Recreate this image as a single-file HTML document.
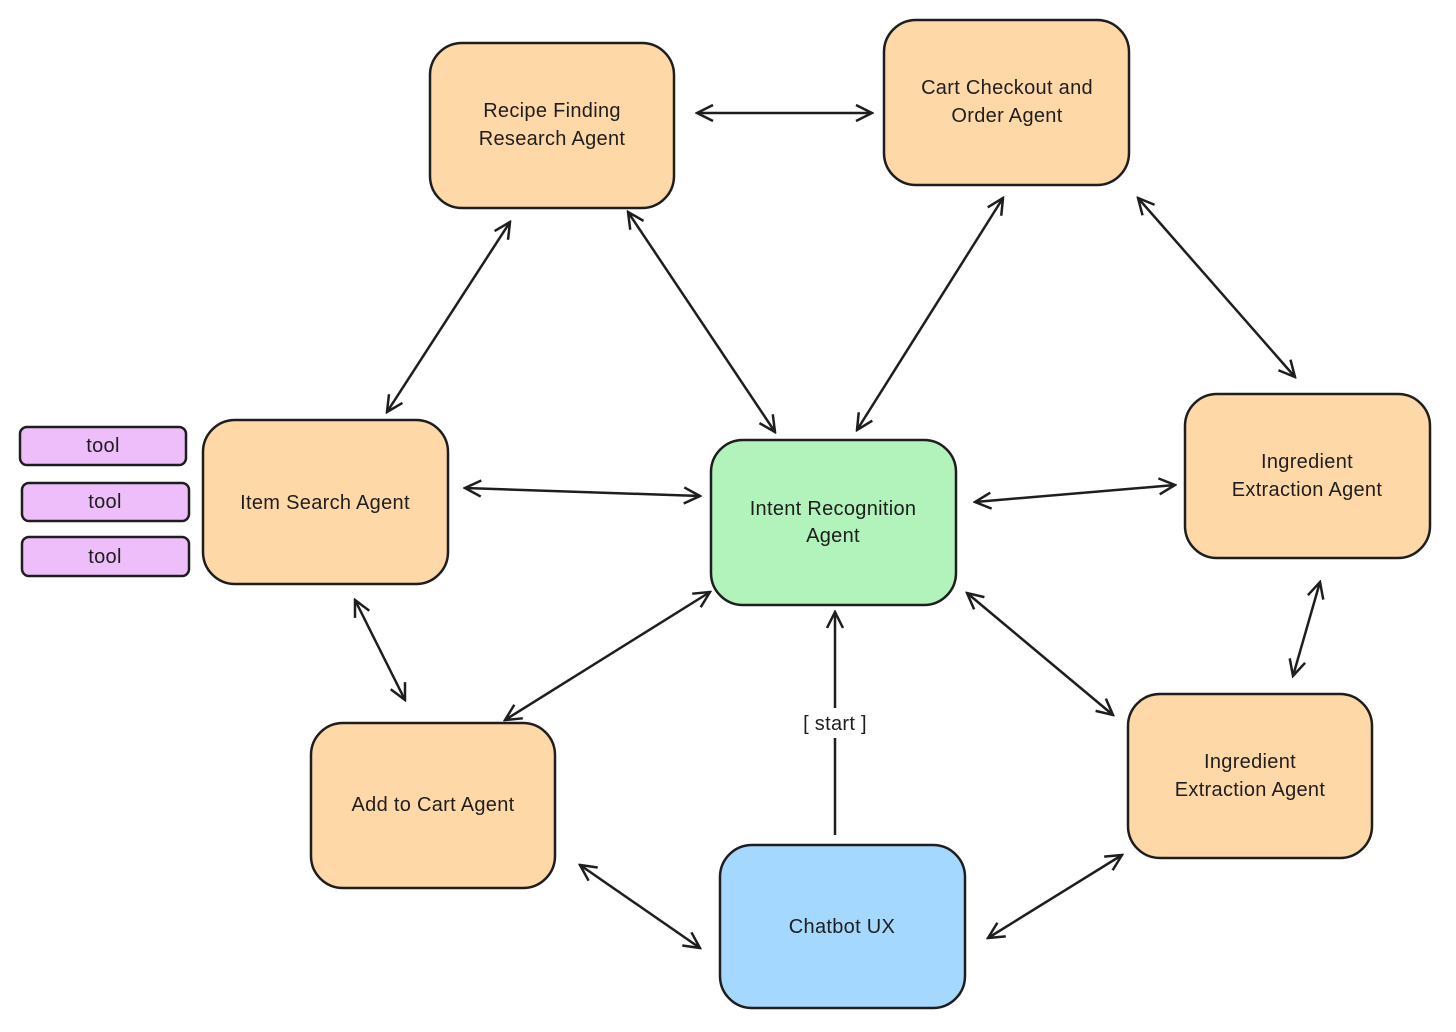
<!DOCTYPE html>
<html><head><meta charset="utf-8"><style>
html,body{margin:0;padding:0;background:#fff;}
svg{display:block;}
text{font-family:"Liberation Sans",sans-serif;font-size:20px;fill:#1e1e1e;text-anchor:middle;letter-spacing:0.3px;}
</style></head><body>
<svg width="1456" height="1032" viewBox="0 0 1456 1032" xmlns="http://www.w3.org/2000/svg">
<defs>
<marker id="a" viewBox="0 0 20 20" refX="18" refY="10" markerWidth="20" markerHeight="20" markerUnits="userSpaceOnUse" orient="auto-start-reverse">
<path d="M2,2 L18,10 L2,18" fill="none" stroke="#1e1e1e" stroke-width="2.5"/>
</marker>
</defs>
<g fill="#ffd8a8" stroke="#1e1e1e" stroke-width="2.5">
<rect x="430" y="43" width="244" height="165" rx="32"/>
<rect x="884" y="20" width="245" height="165" rx="32"/>
<rect x="203" y="420" width="245" height="164" rx="32"/>
<rect x="1185" y="394" width="245" height="164" rx="32"/>
<rect x="311" y="723" width="244" height="165" rx="32"/>
<rect x="1128" y="694" width="244" height="164" rx="32"/>
<rect x="711" y="440" width="245" height="165" rx="32" fill="#b2f2bb"/>
<rect x="720" y="845" width="245" height="163" rx="32" fill="#a5d8ff"/>
<rect x="20" y="427" width="166" height="38" rx="7" fill="#eebefa"/>
<rect x="22" y="483" width="167" height="38" rx="7" fill="#eebefa"/>
<rect x="22" y="537" width="167" height="39" rx="7" fill="#eebefa"/>
</g>
<g stroke="#1e1e1e" stroke-width="2.5" fill="none" marker-start="url(#a)" marker-end="url(#a)">
<line x1="697" y1="113" x2="872" y2="113"/>
<line x1="510" y1="222" x2="387" y2="412"/>
<line x1="628" y1="212" x2="775" y2="432"/>
<line x1="1003" y1="198" x2="857" y2="430"/>
<line x1="1138" y1="198" x2="1295" y2="377"/>
<line x1="465" y1="488" x2="700" y2="496"/>
<line x1="975" y1="502" x2="1175" y2="485"/>
<line x1="1320" y1="582" x2="1293" y2="676"/>
<line x1="355" y1="600" x2="405" y2="700"/>
<line x1="710" y1="592" x2="505" y2="720"/>
<line x1="967" y1="593" x2="1113" y2="715"/>
<line x1="580" y1="865" x2="700" y2="948"/>
<line x1="988" y1="938" x2="1122" y2="855"/>
</g>
<line x1="835" y1="835" x2="835" y2="612" stroke="#1e1e1e" stroke-width="2.5" marker-end="url(#a)"/>
<rect x="780" y="708" width="110" height="30" fill="#fff"/>
<text x="835" y="730">[ start ]</text>
<text x="552" y="117">Recipe Finding</text>
<text x="552" y="145">Research Agent</text>
<text x="1007" y="94">Cart Checkout and</text>
<text x="1007" y="122">Order Agent</text>
<text x="325" y="509">Item Search Agent</text>
<text x="833" y="515">Intent Recognition</text>
<text x="833" y="542">Agent</text>
<text x="1307" y="468">Ingredient</text>
<text x="1307" y="496">Extraction Agent</text>
<text x="1250" y="768">Ingredient</text>
<text x="1250" y="796">Extraction Agent</text>
<text x="433" y="811">Add to Cart Agent</text>
<text x="842" y="933">Chatbot UX</text>
<text x="103" y="452">tool</text>
<text x="105" y="508">tool</text>
<text x="105" y="563">tool</text>
</svg>
</body></html>
